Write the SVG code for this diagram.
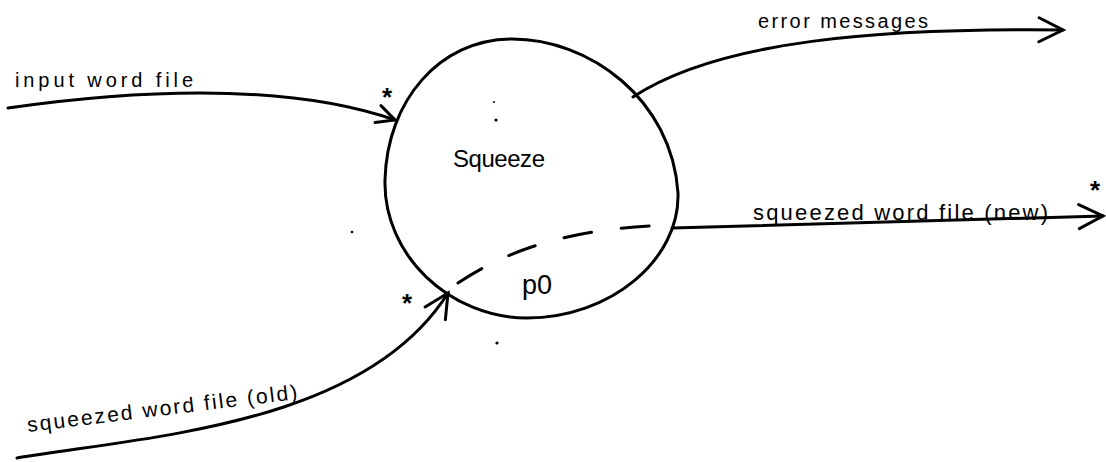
<svg xmlns="http://www.w3.org/2000/svg" width="1106" height="462" viewBox="0 0 1106 462">
<style>
.ln{fill:none;stroke:#000;stroke-width:3;stroke-linecap:round;stroke-linejoin:round}
.t{font-family:"Liberation Sans",Arial,sans-serif;fill:#000}
.st{font-family:"Liberation Sans",Arial,sans-serif;font-size:26px;fill:#000;font-weight:bold}
</style>
<defs>
<marker id="arrL" markerUnits="userSpaceOnUse" markerWidth="30" markerHeight="30" refX="26" refY="13" orient="auto" viewBox="0 0 30 26">
<path d="M2,1 L26,13 L2,25" fill="none" stroke="#000" stroke-width="3" stroke-linecap="round"/>
</marker>
<marker id="arrS" markerUnits="userSpaceOnUse" markerWidth="24" markerHeight="24" refX="20" refY="10" orient="auto" viewBox="0 0 24 20">
<path d="M2,1 L20,10 L2,19" fill="none" stroke="#000" stroke-width="3" stroke-linecap="round"/>
</marker>
</defs>
<rect width="1106" height="462" fill="#fff"/>
<g id="squeeze">
<path class="ln" d="M510,39 C590,38 672,100 678,193 C680,260 610,318 527,318 C450,318 383,255 385,180 C387,100 440,40 510,39 Z"/>
<text class="t" x="453" y="167" font-size="24" textLength="92">Squeeze</text>
<text class="t" x="522" y="294" font-size="27">p0</text>
<circle cx="494" cy="102" r="1" fill="#000"/>
<circle cx="496" cy="120" r="1.6" fill="#000"/>
</g>
<g id="connectors">
<g id="input-word-file">
<path class="ln" d="M8,108 C120,92 280,80 395,120" marker-end="url(#arrS)"/>
<text class="t" x="15" y="87" font-size="20" textLength="178">input word file</text>
<text class="st" x="382" y="106">*</text>
</g>
<g id="error-messages">
<path class="ln" d="M633,97 C720,40 880,28 1063,30" marker-end="url(#arrL)"/>
<text class="t" x="758" y="28" font-size="20" textLength="170">error messages</text>
</g>
<g id="squeezed-new">
<path class="ln" d="M672,228 L1103,216" marker-end="url(#arrL)"/>
<path class="ln" d="M458,283 C500,255 560,228 672,225" stroke-dasharray="28 30"/>
<text class="t" x="753" y="220" font-size="22" textLength="295">squeezed word file (new)</text>
<text class="st" x="1090" y="199">*</text>
</g>
<g id="squeezed-old">
<path class="ln" d="M17,458 C150,436 365,425 448,293" marker-end="url(#arrL)"/>
<text class="t" x="28" y="432" font-size="21" textLength="272" transform="rotate(-7 28 432)">squeezed word file (old)</text>
<text class="st" x="402" y="312">*</text>
</g>
</g>
<circle cx="352" cy="232" r="1.3" fill="#000"/>
<circle cx="497" cy="343" r="1.6" fill="#000"/>
</svg>
